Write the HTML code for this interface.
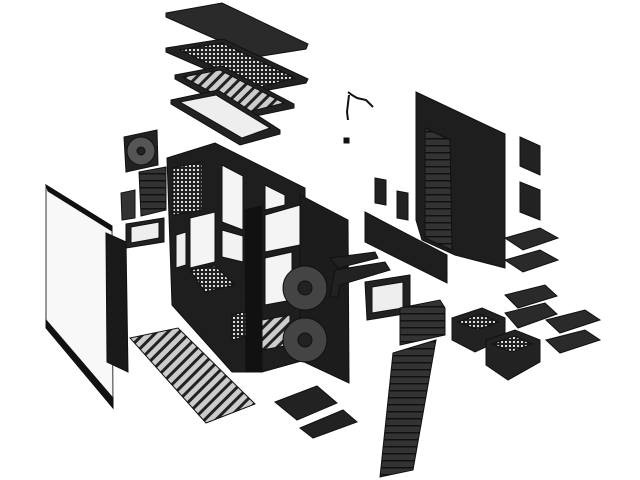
<!DOCTYPE html>
<html><head><meta charset="utf-8"><style>html,body{margin:0;padding:0;background:#fff}svg{display:block}</style></head>
<body>
<svg width="640" height="480" viewBox="0 0 640 480" xmlns="http://www.w3.org/2000/svg">
<defs>
<pattern id="mesh" width="4" height="4" patternUnits="userSpaceOnUse"><rect width="4" height="4" fill="#222"/><rect x="1" y="1" width="2" height="2" fill="#ddd"/></pattern>
<pattern id="stripe" width="8" height="8" patternUnits="userSpaceOnUse" patternTransform="rotate(45)"><rect width="8" height="8" fill="#ccc"/><rect width="3" height="8" fill="#222"/></pattern>
<pattern id="vent" width="6" height="7" patternUnits="userSpaceOnUse"><rect width="6" height="7" fill="#333"/><rect y="5" width="6" height="1.5" fill="#111"/></pattern>
</defs>
<g stroke="#111" stroke-width="1">
<polygon points="166,13 222,3 308,44 306,49 256,57 166,17" fill="#2a2a2a"/>
<polygon points="166,48 223,39 308,79 306,83 258,92 166,52" fill="#222"/>
<polygon points="180,50 222,43 295,78 257,88" fill="url(#mesh)"/>
<polygon points="175,75 222,66 294,104 294,108 246,118 175,79" fill="#222"/>
<polygon points="183,77 220,70 284,103 248,112" fill="url(#stripe)"/>
<polygon points="171,100 218,90 280,130 280,134 240,145 171,104" fill="#222"/>
<polygon points="180,102 216,95 270,128 242,138" fill="#eee"/>
<polygon points="124,137 157,130 158,165 126,172" fill="#222"/>
<circle cx="141" cy="151" r="14" fill="#555"/><circle cx="141" cy="151" r="4" fill="#222"/>
<polygon points="139,172 166,167 166,210 141,216" fill="url(#vent)"/>
<polygon points="121,193 135,190 135,218 122,220" fill="#333"/>
<polygon points="126,224 164,218 164,242 126,248" fill="#222"/>
<polygon points="131,227 159,222 159,238 131,243" fill="#eee"/>
<polygon points="46,185 112,226 113,408 46,326" fill="#f8f8f8" stroke="#333"/>
<polygon points="46,185 112,226 112,231 48,191" fill="#111"/>
<polygon points="46,320 113,398 113,408 46,328" fill="#111"/>
<polygon points="106,233 126,242 128,372 107,362" fill="#1a1a1a"/>
<polygon points="130,338 178,328 255,404 206,423" fill="url(#stripe)"/>
<polygon points="167,158 215,143 305,188 305,360 262,372 232,372 172,305" fill="#1e1e1e"/>
<polygon points="173,168 202,162 202,210 173,215" fill="url(#mesh)"/>
<polygon points="190,218 215,212 215,262 190,268" fill="#f4f4f4"/>
<polygon points="222,165 243,176 243,230 222,222" fill="#f4f4f4"/>
<polygon points="222,230 243,236 243,262 222,257" fill="#f2f2f2"/>
<polygon points="176,235 186,232 186,265 176,268" fill="#eee"/>
<polygon points="265,215 300,205 300,245 265,252" fill="#f4f4f4"/>
<polygon points="265,258 292,252 292,300 265,305" fill="#f4f4f4"/>
<polygon points="265,185 285,195 285,205 265,210" fill="#f4f4f4"/>
<polygon points="190,270 215,266 235,285 205,292" fill="url(#mesh)"/>
<polygon points="232,315 252,310 252,335 232,340" fill="url(#mesh)"/>
<polygon points="262,320 290,315 290,345 262,350" fill="url(#stripe)"/>
<polygon points="245,210 262,206 262,372 246,372" fill="#111"/>
<polygon points="300,195 348,220 349,383 300,360" fill="#1c1c1c"/>
<circle cx="305" cy="288" r="22" fill="#444"/><circle cx="305" cy="288" r="7" fill="#222"/>
<circle cx="305" cy="340" r="22" fill="#444"/><circle cx="305" cy="340" r="7" fill="#222"/>
<polygon points="330,258 375,252 378,258 338,268" fill="#222"/>
<polygon points="335,270 385,262 390,270 340,285 338,297 330,297" fill="#222"/>
<polygon points="365,282 410,275 410,313 367,320" fill="#222"/>
<polygon points="372,287 403,282 403,308 372,313" fill="#eee"/>
<polygon points="400,308 440,300 445,308 445,335 400,345" fill="url(#vent)"/>
<polygon points="393,353 436,340 413,470 380,477" fill="url(#vent)"/>
<polygon points="275,402 317,386 337,403 297,420" fill="#222"/>
<polygon points="300,428 343,410 357,422 313,438" fill="#222"/>
<polyline points="348,92 352,95 357,98 366,100 373,107" fill="none" stroke-width="2"/>
<polyline points="349,95 347,112 348,120" fill="none" stroke-width="2"/>
<rect x="344" y="138" width="5" height="5" fill="#111"/>
<polygon points="375,178 386,180 386,205 375,203" fill="#222"/>
<polygon points="397,191 408,193 408,220 397,218" fill="#222"/>
<polygon points="365,212 447,255 447,283 365,242" fill="#1e1e1e"/>
<polygon points="416,92 505,134 505,268 455,255 422,240 416,220" fill="#1e1e1e"/>
<polygon points="425,128 450,140 452,250 425,238" fill="url(#vent)"/>
<polygon points="520,137 540,146 540,175 520,166" fill="#222"/>
<polygon points="520,182 540,190 540,220 520,212" fill="#222"/>
<polygon points="505,238 540,228 558,238 523,250" fill="#2a2a2a"/>
<polygon points="505,260 540,250 558,260 523,272" fill="#2a2a2a"/>
<polygon points="505,295 545,285 557,296 518,308" fill="#2a2a2a"/>
<polygon points="505,313 545,303 557,314 518,328" fill="#2a2a2a"/>
<polygon points="546,320 585,310 600,320 560,333" fill="#2a2a2a"/>
<polygon points="546,340 585,330 600,340 560,353" fill="#2a2a2a"/>
<polygon points="452,318 482,308 505,318 505,338 475,352 452,340" fill="#222"/>
<polygon points="458,322 480,314 498,322 478,330" fill="url(#mesh)"/>
<polygon points="486,340 515,330 540,340 540,362 508,380 486,365" fill="#222"/>
<polygon points="492,344 514,336 532,344 512,352" fill="url(#mesh)"/>
</g>
</svg>
</body></html>
